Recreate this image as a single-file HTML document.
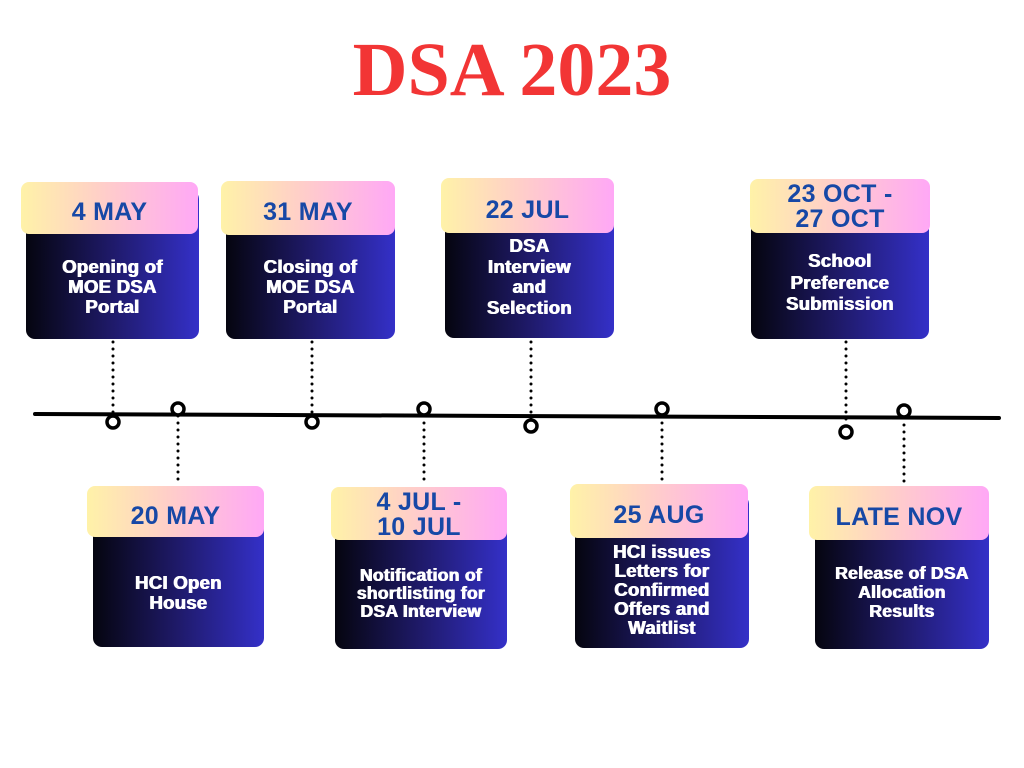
<!DOCTYPE html>
<html><head><meta charset="utf-8"><style>
body{margin:0;width:1024px;height:768px;background:#fff;position:relative;overflow:hidden;font-family:"Liberation Sans",sans-serif}
.a{position:absolute}
.body{position:absolute;border-radius:9px;background:linear-gradient(90deg,#05050f 0%,#1f1a6a 50%,#3430c8 100%)}
.hdr{position:absolute;border-radius:8px;background:linear-gradient(90deg,#fff2a8 0%,#ffcfc8 45%,#ffa8f6 100%);color:#1748a6;font-weight:bold;text-align:center;font-size:25px;letter-spacing:0.3px;display:flex;align-items:center;justify-content:center;line-height:25px;box-sizing:border-box}
.one{padding-top:9px}
.txt{position:absolute;color:#fff;font-weight:900;text-align:center;font-size:18.5px;line-height:20px;letter-spacing:0.3px;text-shadow:0.5px 0 0 #fff,-0.5px 0 0 #fff}
h1{position:absolute;left:0;width:1024px;top:30px;margin:0;text-align:center;font-family:"Liberation Serif",serif;font-size:76px;color:#f23535;font-weight:bold;line-height:80px}
</style></head><body>
<h1>DSA 2023</h1>
<svg class="a" style="left:0;top:0" width="1024" height="768">
<line x1="35" y1="414" x2="999" y2="418" stroke="#000" stroke-width="4" stroke-linecap="round"/>
<g stroke="#000" stroke-width="3" stroke-dasharray="0 7" stroke-linecap="round" fill="none">
<line x1="113" y1="342" x2="113" y2="416"/><line x1="312" y1="342" x2="312" y2="416"/>
<line x1="531" y1="342" x2="531" y2="420"/><line x1="846" y1="342" x2="846" y2="426"/>
<line x1="178" y1="416" x2="178" y2="484"/><line x1="424" y1="416" x2="424" y2="484"/>
<line x1="662" y1="416" x2="662" y2="482"/><line x1="904" y1="418" x2="904" y2="488"/>
</g>
<g stroke="#000" stroke-width="3.5" fill="#fff">
<circle cx="113" cy="422" r="6"/><circle cx="178" cy="409" r="6"/><circle cx="312" cy="422" r="6"/><circle cx="424" cy="409" r="6"/>
<circle cx="531" cy="426" r="6"/><circle cx="662" cy="409" r="6"/><circle cx="846" cy="432" r="6"/><circle cx="904" cy="411" r="6"/>
</g></svg>

<div class="body" style="left:26px;top:190px;width:173px;height:149px"></div>
<div class="hdr one" style="left:21px;top:182px;width:177px;height:52px">4 MAY</div>
<div class="txt" style="left:26px;top:257px;width:173px">Opening of<br>MOE DSA<br>Portal</div>

<div class="body" style="left:226px;top:190px;width:169px;height:149px"></div>
<div class="hdr one" style="left:221px;top:181px;width:174px;height:54px">31 MAY</div>
<div class="txt" style="left:226px;top:257px;width:169px">Closing of<br>MOE DSA<br>Portal</div>

<div class="body" style="left:445px;top:190px;width:169px;height:148px"></div>
<div class="hdr one" style="left:441px;top:178px;width:173px;height:55px">22 JUL</div>
<div class="txt" style="left:445px;top:236px;width:169px;line-height:20.7px">DSA<br>Interview<br>and<br>Selection</div>

<div class="body" style="left:751px;top:190px;width:178px;height:149px"></div>
<div class="hdr" style="left:750px;top:179px;width:180px;height:54px;padding-top:2px">23 OCT -<br>27 OCT</div>
<div class="txt" style="left:751px;top:250px;width:178px;line-height:21.5px">School<br>Preference<br>Submission</div>

<div class="body" style="left:93px;top:495px;width:171px;height:152px"></div>
<div class="hdr one" style="left:87px;top:486px;width:177px;height:51px">20 MAY</div>
<div class="txt" style="left:93px;top:573px;width:171px">HCI Open<br>House</div>

<div class="body" style="left:335px;top:495px;width:172px;height:154px"></div>
<div class="hdr" style="left:331px;top:487px;width:176px;height:53px;padding-top:2px">4 JUL -<br>10 JUL</div>
<div class="txt" style="left:335px;top:566px;width:172px;line-height:18px;font-size:17.5px">Notification of<br>shortlisting for<br>DSA Interview</div>

<div class="body" style="left:575px;top:495px;width:174px;height:153px"></div>
<div class="hdr one" style="left:570px;top:484px;width:178px;height:54px">25 AUG</div>
<div class="txt" style="left:575px;top:542px;width:174px;line-height:19px">HCI issues<br>Letters for<br>Confirmed<br>Offers and<br>Waitlist</div>

<div class="body" style="left:815px;top:495px;width:174px;height:154px"></div>
<div class="hdr one" style="left:809px;top:486px;width:180px;height:54px">LATE NOV</div>
<div class="txt" style="left:815px;top:564px;width:174px;line-height:19px;font-size:17.5px">Release of DSA<br>Allocation<br>Results</div>
</body></html>
